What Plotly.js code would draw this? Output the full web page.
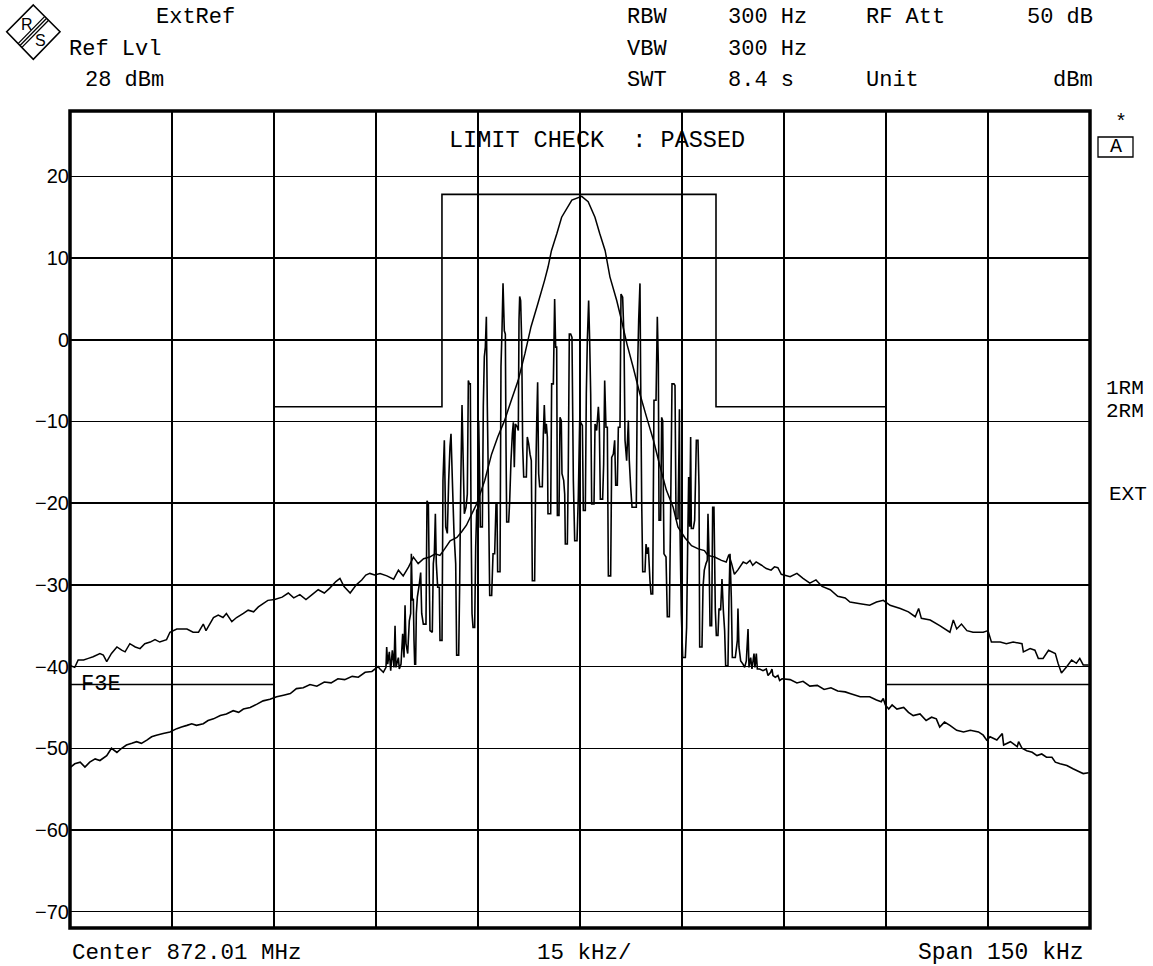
<!DOCTYPE html>
<html>
<head>
<meta charset="utf-8">
<script src="https://cdn.plot.ly/plotly-3.0.1.min.js"></script>
<style>
html,body{margin:0;padding:0;background:#ffffff;}
#chart{width:1153px;height:966px;}
</style>
</head>
<body>
<div id="chart"></div>
<script>
// ---------------- DATA (frequency offset from centre in kHz, level in dBm) ----------------
// Limit line (step breakpoints)
const limitFreq  = [-75, -45, -20.3, 20, 45, 75];
const limitLevel = [-42.2, -8.2, 17.8, -8.2, -42.2, -42.2];

// Trace with the single broad peak
const peakFreq = [
 -74.9,-74.3,-73.8,-73.0,-72.3,-71.6,-70.6,-70.1,-69.6,-68.9,
 -68.1,-67.4,-66.9,-66.2,-65.4,-64.7,-64.0,-63.2,-62.5,-61.8,
 -60.8,-60.3,-59.3,-57.8,-56.9,-56.1,-55.4,-55.0,-53.9,-53.2,
 -52.5,-52.0,-51.2,-50.5,-49.5,-48.8,-48.0,-47.3,-46.6,-45.9,
 -44.9,-43.8,-42.9,-42.1,-41.2,-40.3,-39.4,-38.5,-37.6,-36.8,
 -35.9,-35.3,-34.7,-33.8,-32.9,-32.1,-31.5,-30.9,-30.2,-29.4,
 -28.4,-27.4,-26.7,-26.0,-25.2,-24.5,-23.8,-23.0,-22.1,-21.3,
 -20.6,-19.9,-19.1,-18.1,-17.4,-16.7,-15.9,-15.2,-14.0,-13.0,
 -12.1,-11.1,-10.1,-9.1,-8.1,-7.2,-6.2,-5.2,-4.7,-4.2,
 -3.4,-2.7,-1.2,0.25,1.2,2.2,2.9,3.7,4.4,5.4,
 6.1,6.9,7.8,8.8,9.8,10.8,11.8,12.7,13.7,14.4,
 15.4,16.4,17.4,18.3,18.8,19.8,20.8,21.5,21.9,22.3,
 22.7,23.2,24.0,24.5,25.0,25.4,25.9,26.7,27.4,28.1,
 28.6,29.1,29.6,30.9,31.9,32.8,33.8,34.7,35.6,36.8,
 37.9,39.0,39.7,41.2,42.6,43.6,44.6,45.6,47.1,48.3,
 49.3,49.8,50.2,51.5,52.9,54.4,54.9,55.4,56.1,56.9,
 57.8,59.3,60.0,60.5,61.8,62.7,63.7,65.0,65.2,66.2,
 66.9,67.4,68.1,68.9,69.9,70.3,70.8,71.6,72.3,73.0,
 73.5,74.0,74.8
];
const peakLevel = [
 -39.9,-40.1,-39.2,-39.2,-39.0,-38.8,-38.4,-38.6,-39.4,-38.4,
 -37.6,-38.0,-38.2,-37.2,-37.6,-37.8,-37.2,-37.0,-36.7,-37.0,
 -36.7,-35.8,-35.4,-35.4,-35.8,-35.8,-34.8,-35.6,-34.0,-33.7,
 -34.0,-33.5,-34.5,-34.0,-33.5,-33.1,-33.3,-32.7,-32.3,-31.9,
 -31.8,-31.5,-31.0,-31.6,-31.2,-31.8,-31.2,-30.6,-31.0,-30.4,
 -29.6,-29.2,-30.2,-31.0,-30.0,-29.4,-28.8,-28.6,-28.8,-28.6,
 -28.9,-29.3,-28.2,-28.9,-27.8,-26.6,-27.4,-26.8,-26.6,-26.2,
 -26.4,-25.6,-24.6,-24.2,-23.5,-22.7,-21.3,-20.1,-17.2,-14.0,
 -11.9,-9.9,-7.4,-5.0,-1.7,1.6,4.4,7.3,8.9,10.9,
 13.0,15.0,17.1,17.55,16.9,15.0,13.0,10.9,7.7,4.8,
 2.4,-0.5,-3.3,-6.6,-9.5,-12.3,-15.6,-18.4,-20.5,-22.9,
 -24.2,-25.2,-25.6,-25.8,-26.4,-26.6,-27.0,-27.2,-26.3,-27.4,
 -28.7,-28.2,-27.2,-27.4,-27.0,-27.6,-27.2,-27.6,-28.0,-28.2,
 -27.8,-27.9,-28.7,-29.0,-28.6,-29.2,-29.8,-29.4,-30.2,-30.6,
 -31.4,-31.6,-32.1,-32.3,-32.5,-32.1,-31.9,-32.5,-32.9,-33.3,
 -33.9,-32.9,-34.1,-34.3,-35.0,-35.8,-34.3,-35.4,-34.8,-35.6,
 -35.8,-35.8,-35.6,-37.0,-37.0,-37.2,-37.0,-37.2,-38.2,-37.8,
 -38.0,-39.0,-39.0,-38.0,-38.4,-39.6,-40.8,-40.0,-39.2,-39.6,
 -39.0,-39.8,-39.8
];

// Trace with the discrete FM spectral lines
const fmFreq = [
 -74.9,-74.3,-73.5,-72.8,-72.1,-71.3,-70.6,-69.6,-68.9,-68.1,
 -67.4,-66.7,-65.9,-65.2,-64.5,-63.7,-63.0,-62.3,-61.3,-60.3,
 -59.3,-58.6,-57.8,-57.1,-56.4,-55.4,-54.7,-53.9,-52.9,-52.0,
 -51.0,-50.2,-49.5,-48.5,-47.5,-46.6,-45.6,-44.6,-43.6,-42.6,
 -41.7,-40.7,-39.7,-38.7,-37.6,-36.6,-35.6,-34.6,-33.5,-32.6,
 -31.6,-30.6,-29.7,-29.41,-28.92,-28.53,-28.43,-28.28,-28.04,-27.84,
 -27.60,-27.35,-27.20,-27.06,-26.71,-26.57,-26.32,-26.08,-25.88,-25.73,
 -25.59,-25.34,-25.10,-24.90,-24.80,-24.66,-24.51,-24.41,-24.31,-24.17,
 -24.07,-23.92,-23.63,-23.43,-23.28,-23.04,-22.65,-22.50,-22.30,-22.16,
 -22.06,-21.72,-21.57,-21.42,-21.27,-21.13,-20.93,-20.69,-20.59,-20.29,
 -20.15,-19.95,-19.75,-19.51,-19.31,-19.12,-18.97,-18.77,-18.53,-18.28,
 -18.14,-17.84,-17.69,-17.55,-17.35,-17.20,-17.01,-16.76,-16.57,-16.42,
 -16.27,-16.13,-16.03,-15.88,-15.73,-15.49,-15.34,-15.19,-14.95,-14.90,
 -14.75,-14.66,-14.36,-14.22,-14.07,-13.92,-13.77,-13.63,-13.48,-13.28,
 -12.99,-12.79,-12.55,-12.35,-12.21,-12.11,-11.76,-11.62,-11.47,-11.32,
 -11.13,-10.98,-10.88,-10.78,-10.49,-10.34,-10.15,-9.95,-9.80,-9.66,
 -9.51,-9.22,-9.07,-8.97,-8.87,-8.73,-8.58,-8.43,-8.28,-7.89,
 -7.75,-7.55,-7.35,-7.16,-7.01,-6.67,-6.52,-6.37,-6.23,-6.08,
 -5.93,-5.54,-5.39,-5.25,-5.10,-4.95,-4.80,-4.71,-4.31,-4.17,
 -3.92,-3.73,-3.58,-3.43,-3.33,-3.09,-2.94,-2.75,-2.65,-2.40,
 -2.25,-2.16,-1.86,-1.72,-1.57,-1.37,-1.18,-0.98,-0.78,-0.44,
 -0.25,-0.05,0.35,0.49,0.78,0.93,1.08,1.27,1.42,1.57,
 1.72,2.06,2.21,2.45,2.70,2.84,2.99,3.33,3.48,3.63,
 3.82,4.02,4.17,4.51,4.66,4.90,5.10,5.25,5.49,5.64,
 5.88,6.03,6.27,6.47,6.62,6.86,7.11,7.25,7.45,7.65,
 8.28,8.43,8.63,8.82,8.92,9.07,9.22,9.56,9.71,9.90,
 10.05,10.29,10.44,10.69,10.88,11.18,11.37,11.52,11.62,11.86,
 12.01,12.16,12.35,12.65,12.84,13.14,13.33,13.53,13.82,13.97,
 14.12,14.41,14.56,14.62,14.70,14.90,15.10,15.49,15.68,15.83,
 15.98,16.13,16.27,16.37,16.66,16.86,17.11,17.35,17.50,17.60,
 17.94,18.09,18.28,18.53,18.72,18.82,18.97,19.12,19.36,19.51,
 19.70,19.90,20.05,20.29,20.44,20.68,20.88,21.08,21.27,21.42,
 21.76,21.91,22.06,22.25,22.40,22.84,23.14,23.23,23.38,23.63,
 23.97,24.21,24.46,24.71,24.85,25.10,25.29,25.59,25.73,25.93,
 26.08,26.42,26.91,27.40,27.65,28.04,28.23,28.38,28.72,29.11,
 29.36,29.71,30.9,31.9,32.8,33.8,34.9,35.9,36.9,37.9,
 39.0,39.7,41.2,42.6,43.6,44.3,44.6,44.9,45.4,45.9,
 46.6,47.6,48.3,49.0,50.0,50.9,51.7,52.4,52.9,53.6,
 54.4,55.4,56.4,57.4,58.6,59.3,59.8,60.3,61.3,62.1,
 62.3,63.3,64.3,64.5,65.0,65.7,66.5,67.2,67.9,68.6,
 69.4,69.9,70.6,71.6,72.5,73.5,74.0,74.8
];
const fmLevel = [
 -52.3,-51.9,-51.7,-52.3,-51.7,-51.3,-51.5,-50.9,-50.0,-50.5,
 -50.0,-49.6,-49.4,-49.2,-49.4,-49.0,-48.6,-48.4,-48.2,-48.0,
 -47.6,-47.4,-47.2,-47.0,-47.2,-47.0,-46.6,-46.4,-46.0,-45.8,
 -45.4,-45.6,-45.2,-45.0,-44.6,-44.2,-44.0,-43.7,-43.5,-43.3,
 -42.7,-42.6,-42.2,-42.4,-41.9,-42.0,-41.5,-41.6,-41.2,-41.3,
 -40.7,-40.6,-40.0,-40.3,-40.7,-40.1,-37.6,-39.7,-38.2,-40.5,
 -38.0,-40.1,-35.0,-40.1,-38.9,-40.3,-39.7,-36.0,-38.9,-32.5,
 -37.2,-38.4,-34.4,-33.5,-26.2,-31.9,-31.7,-36.8,-39.7,-39.7,
 -33.5,-31.5,-29.9,-28.5,-33.5,-34.8,-34.8,-19.7,-20.1,-29.5,
 -35.6,-35.8,-27.4,-26.2,-21.3,-27.4,-30.3,-30.3,-36.8,-36.8,
 -17.2,-12.3,-22.9,-23.7,-17.2,-13.1,-11.5,-17.2,-23.7,-27.4,
 -38.6,-38.6,-29.5,-18.4,-8.0,-14.0,-21.3,-20.5,-18.9,-5.0,
 -5.4,-5.4,-21.3,-33.5,-35.2,-35.2,-25.4,-20.9,-20.5,-9.9,
 -17.2,-22.9,-22.9,-8.2,-2.1,-0.9,2.8,-8.2,-17.2,-31.3,
 -31.3,-26.2,-26.2,-20.1,-20.1,-28.4,-28.4,-3.3,1.1,6.9,
 1.1,0.7,-13.1,-22.3,-22.3,-19.7,-14.8,-11.5,-10.1,-15.6,
 -10.3,-10.7,-11.1,2.4,5.3,4.8,-0.1,-13.1,-16.8,-16.8,
 -11.9,-12.7,-14.0,-14.8,-29.5,-29.5,-17.2,-10.3,-5.2,-16.4,
 -18.0,-18.0,-11.5,-8.0,-11.5,-10.3,-11.9,-21.3,-21.3,-5.4,
 -5.4,5.0,-0.9,-0.9,-21.5,-21.5,-9.5,-9.9,-16.4,-17.2,
 -18.9,-25.0,-25.0,-15.6,0.7,0.7,0.3,-17.2,-24.6,-24.6,
 -19.3,-9.9,-10.5,-20.9,-20.9,-6.6,-0.1,4.8,-0.1,-6.6,
 -20.1,-20.1,-10.3,-11.1,-8.2,-10.3,-19.5,-19.5,-15.2,-5.0,
 -10.7,-10.7,-28.9,-28.9,-14.4,-14.0,-12.3,-17.8,-17.8,-10.7,
 -10.7,5.6,5.2,0.3,-12.3,-14.8,-9.9,-14.8,-18.0,-20.5,
 -20.5,-5.0,2.4,6.9,-4.6,-19.7,-28.4,-28.4,-25.0,-26.2,
 -25.4,-29.5,-31.1,-31.1,-7.4,-7.4,2.8,-2.9,-22.1,-22.1,
 -9.5,-9.9,-26.2,-26.6,-33.9,-33.9,-20.9,-5.4,-5.4,-5.6,
 -21.9,-21.9,-13.1,-8.5,-22.9,-33.5,-38.9,-38.9,-35.2,-25.4,
 -16.8,-22.9,-11.9,-23.1,-23.1,-22.1,-12.3,-12.3,-18.0,-37.6,
 -37.6,-30.3,-28.2,-27.4,-27.0,-21.3,-26.2,-35.0,-35.0,-20.5,
 -20.5,-33.1,-36.2,-36.2,-32.9,-33.1,-29.3,-33.1,-35.6,-39.9,
 -39.9,-31.5,-26.2,-31.5,-38.9,-38.9,-36.8,-32.9,-37.6,-39.3,
 -39.7,-40.1,-39.3,-35.4,-40.1,-38.9,-40.3,-38.4,-40.1,-38.4,
 -40.3,-40.3,-40.5,-40.3,-41.1,-40.7,-40.3,-41.1,-41.3,-41.1,
 -41.7,-41.5,-41.6,-42.0,-41.8,-42.4,-42.3,-42.8,-42.6,-43.0,
 -43.1,-43.3,-43.7,-43.7,-44.1,-44.3,-43.9,-44.7,-45.2,-44.7,
 -45.2,-45.0,-45.6,-46.0,-45.8,-46.6,-46.2,-46.4,-47.4,-46.8,
 -47.2,-47.8,-48.0,-47.8,-48.0,-48.4,-49.0,-48.6,-49.0,-48.2,
 -49.6,-49.2,-49.8,-49.2,-50.0,-50.3,-50.5,-50.9,-50.7,-51.1,
 -51.1,-51.7,-51.9,-52.1,-52.5,-52.9,-53.1,-53.0
];

// Axis settings (values)
const freqRange  = [-75, 75];   // kHz offset, span 150 kHz, 15 kHz/div
const levelRange = [-72, 28];   // dBm, Ref Lvl 28 dBm

// ---------------- LAYOUT ----------------
const W = 1153, H = 966, ML = 70, MR = 63, MT = 111, MB = 38;
const PW = W - ML - MR, PH = H - MT - MB;
function px(x){ return (x - ML) / PW; }
function py(y){ return (H - MB - y) / PH; }

const MONO = 'Liberation Mono, DejaVu Sans Mono, monospace';
const SANS = 'Liberation Sans, Arial, sans-serif';

function txt(text, x, y, size, extra){
  return Object.assign({
    xref:'paper', yref:'paper', x:px(x), y:py(y), text:text,
    showarrow:false, xanchor:'left', yanchor:'middle', borderpad:0,
    font:{family:MONO, size:size, color:'#000'}
  }, extra || {});
}

const annotations = [
  txt('ExtRef', 155, 17, 22),
  txt('Ref Lvl', 68, 49, 22),
  txt('28 dBm', 84, 81, 22),
  txt('RBW', 626, 17, 22),
  txt('300 Hz', 727, 17, 22),
  txt('RF Att', 865, 17, 22),
  txt('50 dB', 1026, 17, 22),
  txt('VBW', 626, 49, 22),
  txt('300 Hz', 727, 49, 22),
  txt('SWT', 626, 81, 22),
  txt('8.4 s', 727, 81, 22),
  txt('Unit', 865, 81, 22),
  txt('dBm', 1052, 81, 22),
  txt('*', 1114, 122, 20),
  txt('A', 1115.5, 147, 20, {xanchor:'center'}),
  txt('1RM', 1105, 388, 21),
  txt('2RM', 1105, 411, 21),
  txt('EXT', 1108, 494, 21),
  txt('LIMIT CHECK  : PASSED', 448, 140, 23.5),
  txt('F3E', 80, 685, 22),
  txt('Center 872.01 MHz', 71, 953, 22.5),
  txt('15 kHz/', 536, 953, 22.5),
  txt('Span 150 kHz', 917, 953, 23),
  txt('R', 27, 25, 16, {xanchor:'center', font:{family:SANS, size:16, color:'#000'}}),
  txt('S', 40, 41, 16, {xanchor:'center', font:{family:SANS, size:16, color:'#000'}})
];

function seg(x0,y0,x1,y1,w){
  return {type:'line', xref:'paper', yref:'paper', x0:px(x0), y0:py(y0), x1:px(x1), y1:py(y1),
          line:{color:'#000', width:w}, layer:'above'};
}

const diamond = 'M ' + px(33.3) + ',' + py(5) + ' L ' + px(60) + ',' + py(31.7) +
                ' L ' + px(33.3) + ',' + py(59.3) + ' L ' + px(6.7) + ',' + py(31.7) + ' Z';

const shapes = [
  // plot frame
  {type:'rect', xref:'paper', yref:'paper', x0:0, y0:0, x1:1, y1:1,
   line:{color:'#000', width:3.5}, layer:'above'},
  // R&S logo
  {type:'path', xref:'paper', yref:'paper', path:diamond, line:{color:'#000', width:1.6}, layer:'above'},
  seg(44.8,16.4,18.1,43.6,1.3),
  seg(46.7,18.3,20.0,45.5,1.3),
  seg(48.6,20.2,21.9,47.4,1.3),
  // trace box "A"
  {type:'rect', xref:'paper', yref:'paper', x0:px(1098), y0:py(157), x1:px(1133), y1:py(137),
   line:{color:'#000', width:1.3}, layer:'above'}
];

const data = [
  {x:limitFreq, y:limitLevel, type:'scatter', mode:'lines', name:'Limit',
   line:{color:'#000', width:1.6, shape:'hv'}, hoverinfo:'skip'},
  {x:peakFreq, y:peakLevel, type:'scatter', mode:'lines', name:'Trace 1',
   line:{color:'#000', width:1.5, simplify:false}},
  {x:fmFreq, y:fmLevel, type:'scatter', mode:'lines', name:'Trace 2',
   line:{color:'#000', width:1.6, simplify:false}}
];

const layout = {
  width:W, height:H,
  margin:{l:ML, r:MR, t:MT, b:MB, pad:0},
  paper_bgcolor:'#ffffff', plot_bgcolor:'#ffffff',
  showlegend:false,
  xaxis:{range:freqRange, tick0:-75, dtick:15, showgrid:true, gridcolor:'#000', gridwidth:1.5,
         zeroline:true, zerolinecolor:'#000', zerolinewidth:2.8,
         showticklabels:false, ticks:'', showline:false, fixedrange:true},
  yaxis:{range:levelRange, tick0:0, dtick:10, showgrid:true, gridcolor:'#000', gridwidth:1.5,
         zeroline:false, ticks:'', showline:false, fixedrange:true,
         tickfont:{family:SANS, size:20, color:'#000'}},
  shapes:shapes,
  annotations:annotations
};

Plotly.newPlot('chart', data, layout, {displayModeBar:false, staticPlot:true});
</script>
</body>
</html>
